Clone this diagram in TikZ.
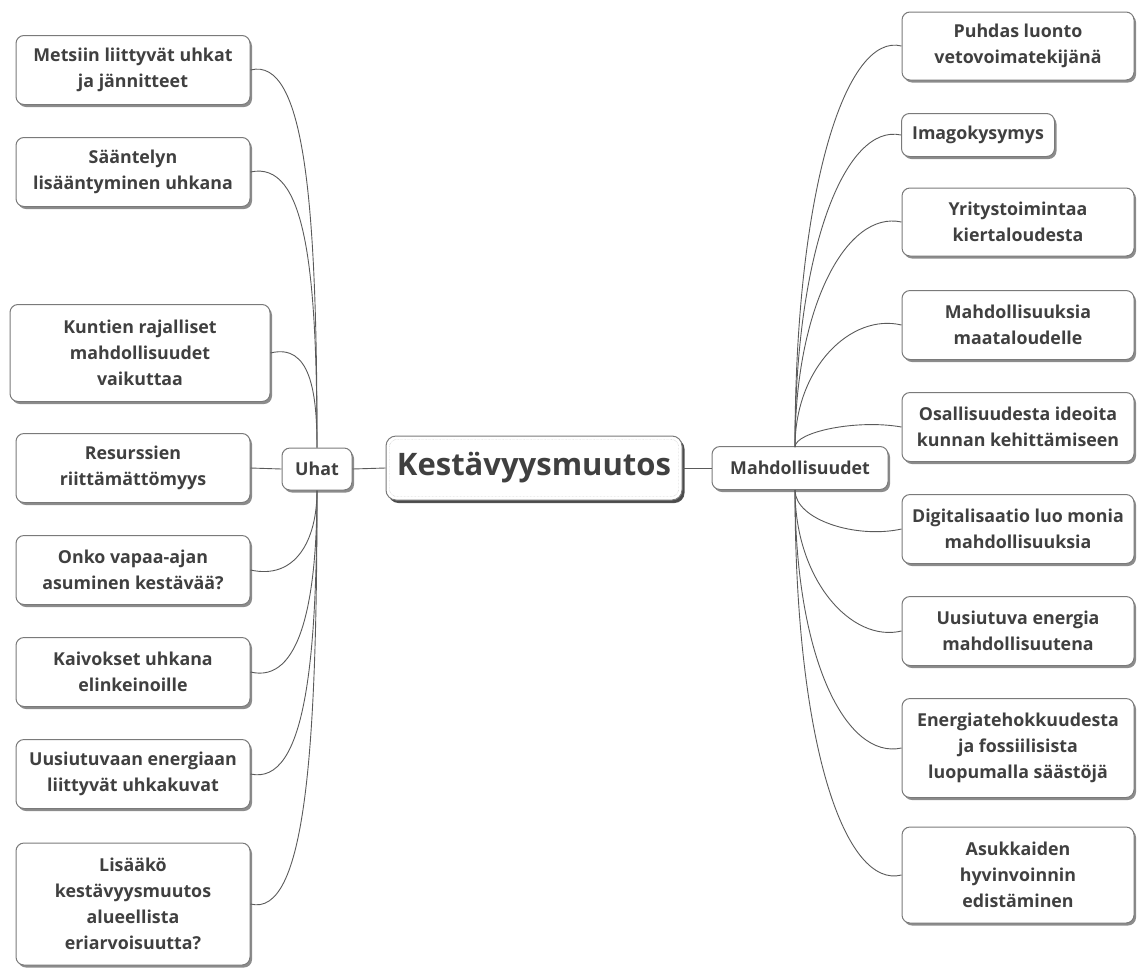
\documentclass[tikz,border=0pt]{standalone}
\usepackage{fontspec}
\setmainfont{Open Sans}
\usetikzlibrary{shadows}
\definecolor{txt}{HTML}{404040}
\definecolor{edge}{HTML}{7A7A7A}
\definecolor{lnk}{HTML}{5A5A5A}
\begin{document}
\begin{tikzpicture}[x=1pt,y=-1pt,
  box/.style={draw=edge, line width=1pt, rounded corners=8pt, fill=white, align=center,
    text=txt, font=\bfseries\fontsize{17.8}{26}\selectfont, inner sep=0pt,
    drop shadow={shadow xshift=2pt, shadow yshift=-2.5pt, fill=black!60, opacity=0.75}},
  sub/.style={box, font=\bfseries\fontsize{17.8}{22}\selectfont},
  central/.style={box, rounded corners=10pt, font=\bfseries\fontsize{31}{38}\selectfont,
    drop shadow={shadow xshift=2.5pt, shadow yshift=-3pt, fill=black!75, opacity=0.85}},
  link/.style={draw=lnk, line width=0.9pt}]
\useasboundingbox (0,0) rectangle (1138,967);

\coordinate (mt) at (795,447);
\coordinate (mb) at (795,490);

% central and main branches
\node[central, minimum width=296pt, minimum height=64pt] (c) at (534,468) {Kestävyysmuutos};
\draw[densely dotted, black!30, rounded corners=7pt] ([shift={(4pt,-4pt)}]c.north west) rectangle ([shift={(-4pt,4pt)}]c.south east);
\node[sub, minimum width=70pt, minimum height=42pt] (u) at (317,469) {Uhat};
\node[sub, minimum width=176pt, minimum height=43pt] (m) at (800,468) {Mahdollisuudet};

% left boxes
\node[box, minimum width=234pt, minimum height=69pt] (l1) at (133,70) {Metsiin liittyvät uhkat\\ja jännitteet};
\node[box, minimum width=234pt, minimum height=69pt] (l2) at (133,172) {Sääntelyn\\lisääntyminen uhkana};
\node[box, minimum width=260pt, minimum height=97pt] (l3) at (140,353) {Kuntien rajalliset\\mahdollisuudet\\vaikuttaa};
\node[box, minimum width=234pt, minimum height=69pt] (l4) at (133,468) {Resurssien\\riittämättömyys};
\node[box, minimum width=234pt, minimum height=69pt] (l5) at (133,570) {Onko vapaa-ajan\\asuminen kestävää?};
\node[box, minimum width=234pt, minimum height=69pt] (l6) at (133,672) {Kaivokset uhkana\\elinkeinoille};
\node[box, minimum width=234pt, minimum height=69pt] (l7) at (133,774) {Uusiutuvaan energiaan\\liittyvät uhkakuvat};
\node[box, minimum width=234pt, minimum height=122pt] (l8) at (133,904) {Lisääkö\\kestävyysmuutos\\alueellista\\eriarvoisuutta?};

% right boxes
\node[box, minimum width=232pt, minimum height=68pt] (r1) at (1018,46) {Puhdas luonto\\vetovoimatekijänä};
\node[box, minimum width=153pt, minimum height=43pt] (r2) at (978,135) {Imagokysymys};
\node[box, minimum width=232pt, minimum height=68pt] (r3) at (1018,222) {Yritystoimintaa\\kiertaloudesta};
\node[box, minimum width=232pt, minimum height=69pt] (r4) at (1018,325) {Mahdollisuuksia\\maataloudelle};
\node[box, minimum width=232pt, minimum height=69pt] (r5) at (1018,427) {Osallisuudesta ideoita\\kunnan kehittämiseen};
\node[box, minimum width=232pt, minimum height=69pt] (r6) at (1018,529) {Digitalisaatio luo monia\\mahdollisuuksia};
\node[box, minimum width=232pt, minimum height=69pt] (r7) at (1018,631) {Uusiutuva energia\\mahdollisuutena};
\node[box, minimum width=232pt, minimum height=99pt] (r8) at (1018,748) {Energiatehokkuudesta\\ja fossiilisista\\luopumalla säästöjä};
\node[box, minimum width=232pt, minimum height=96pt] (r9) at (1018,875) {Asukkaiden\\hyvinvoinnin\\edistäminen};

% connectors
\draw[link] (c.west) -- (u.east);
\draw[link] (c.east) -- (m.west);
\draw[link] (u.west) -- (l4.east);
\draw[link] (u.north) .. controls +(0,-240) and +(55,-14) .. (l1.east);
\draw[link] (u.north) .. controls +(0,-180) and +(55,-12) .. (l2.east);
\draw[link] (u.north) .. controls +(0,-55) and +(40,-10) .. (l3.east);
\draw[link] (u.south) .. controls +(0,50) and +(45,10) .. (l5.east);
\draw[link] (u.south) .. controls +(0,110) and +(50,12) .. (l6.east);
\draw[link] (u.south) .. controls +(0,170) and +(55,12) .. (l7.east);
\draw[link] (u.south) .. controls +(0,260) and +(55,14) .. (l8.east);

\draw[link] (mt) .. controls +(0,-260) and +(-55,-14) .. (r1.west);
\draw[link] (mt) .. controls +(0,-200) and +(-55,-12) .. (r2.west);
\draw[link] (mt) .. controls +(0,-140) and +(-55,-12) .. (r3.west);
\draw[link] (mt) .. controls +(0,-80) and +(-50,-12) .. (r4.west);
\draw[link] (mt) .. controls +(0,-15) and +(-45,-8) .. (r5.west);
\draw[link] (mb) .. controls +(0,30) and +(-45,10) .. (r6.west);
\draw[link] (mb) .. controls +(0,90) and +(-50,12) .. (r7.west);
\draw[link] (mb) .. controls +(0,170) and +(-55,12) .. (r8.west);
\draw[link] (mb) .. controls +(0,260) and +(-55,14) .. (r9.west);
\end{tikzpicture}
\end{document}
